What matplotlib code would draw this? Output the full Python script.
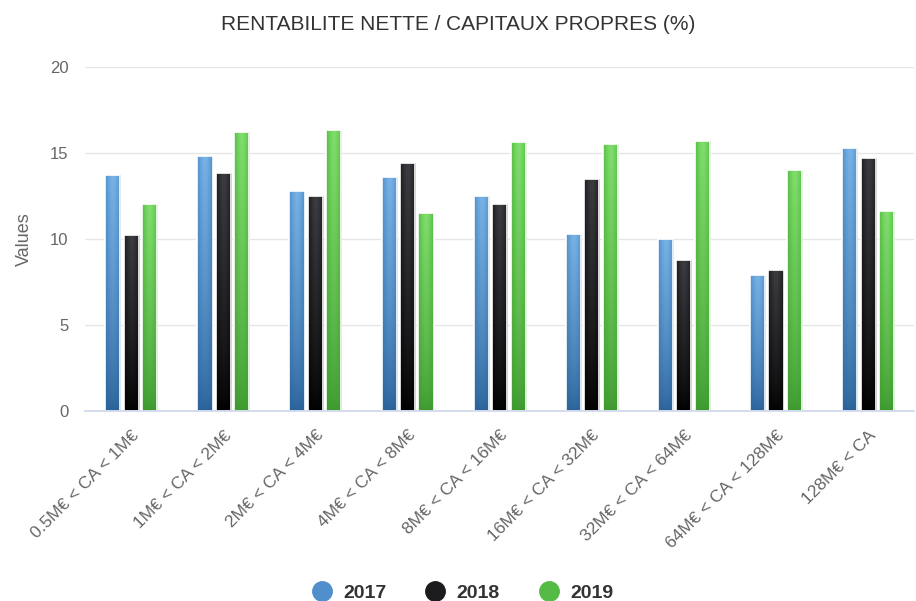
import matplotlib
matplotlib.use('Agg')
import matplotlib.pyplot as plt
from matplotlib.lines import Line2D
import numpy as np

plt.rcParams['font.family'] = ['Liberation Sans', 'DejaVu Sans']

categories = ['0.5M€ < CA < 1M€', '1M€ < CA < 2M€', '2M€ < CA < 4M€', '4M€ < CA < 8M€',
              '8M€ < CA < 16M€', '16M€ < CA < 32M€', '32M€ < CA < 64M€',
              '64M€ < CA < 128M€', '128M€ < CA']
years = ['2017', '2018', '2019']
v2017 = [13.7, 14.8, 12.8, 13.6, 12.5, 10.3, 10.0, 7.9, 15.3]
v2018 = [10.2, 13.8, 12.5, 14.4, 12.0, 13.5, 8.8, 8.2, 14.7]
v2019 = [12.0, 16.2, 16.3, 11.5, 15.6, 15.5, 15.7, 14.0, 11.6]
title = 'RENTABILITE NETTE / CAPITAUX PROPRES (%)'

# (edge top, centre top, bottom) per series
shades = [
    ('#4f8fcc', '#78b3e6', '#2a6299'),
    ('#1c1c1e', '#3c3c42', '#000000'),
    ('#56bb45', '#80de6c', '#3e9a2f'),
]
legend_cols = ['#4f8fcc', '#1c1c1e', '#56bb45']


def hex2rgb(h):
    return np.array([int(h[i:i + 2], 16) / 255. for i in (1, 3, 5)])


def gradient(edge, centre, bottom, nx=40, ny=80):
    e, c, b = hex2rgb(edge), hex2rgb(centre), hex2rgb(bottom)
    xs = np.linspace(0, 1, nx)
    hprof = 1 - np.abs(2 * xs - 1) ** 1.5
    top = e[None, :] + (c - e)[None, :] * hprof[:, None]
    t = np.linspace(1, 0, ny)[:, None, None]  # row 0 = top
    t = t ** 0.7
    img = b[None, None, :] * (1 - t) + top[None, :, :] * t
    return np.clip(img, 0, 1)


fig = plt.figure(figsize=(9.16, 6.01), dpi=100)
ax = fig.add_axes([0.093, 0.316, 0.905, 0.573])

x = np.arange(len(categories))
width = 0.165
step = 0.2
series = [v2017, v2018, v2019]
for i, vals in enumerate(series):
    img = gradient(*shades[i])
    bars = ax.bar(x + (i - 1) * step, vals, width, color=shades[i][0],
                  edgecolor='white', linewidth=1.2, zorder=3)
    for b in bars:
        x0 = b.get_x()
        im = ax.imshow(img, extent=(x0, x0 + b.get_width(), 0, b.get_height()),
                       aspect='auto', zorder=3.5, interpolation='bilinear')
        im.set_clip_path(b)
        ax.add_patch(plt.Rectangle((x0, 0), b.get_width(), b.get_height(),
                                   fill=False, edgecolor='white', linewidth=1.2, zorder=4))

ax.set_xlim(-0.5, len(categories) - 0.5)
ax.set_ylim(0, 20)
ax.set_yticks([0, 5, 10, 15, 20])
ax.set_xticks(x)
ax.set_xticklabels(categories, rotation=45, ha='right', rotation_mode='anchor',
                   fontsize=12.5, color='#666666')
ax.tick_params(axis='x', length=0, pad=12)
ax.tick_params(axis='y', length=0, pad=12, labelsize=12, labelcolor='#666666')
ax.grid(axis='y', color='#e6e6e6', linewidth=1, zorder=0)
ax.set_axisbelow(True)
for s in ['top', 'right', 'left']:
    ax.spines[s].set_visible(False)
ax.spines['bottom'].set_color('#ccd6eb')
ax.spines['bottom'].set_linewidth(1.2)
ax.spines['bottom'].set_zorder(5)
ax.set_ylabel('Values', fontsize=13, color='#666666', labelpad=12)

fig.text(0.5, 0.96, title, ha='center', va='center', fontsize=15, color='#333333')

handles = [Line2D([], [], marker='o', linestyle='none', markersize=14,
                  markerfacecolor=c, markeredgecolor=c) for c in legend_cols]
leg = fig.legend(handles, years, loc='center', bbox_to_anchor=(0.5, 0.013), ncol=3,
                 frameon=False, handletextpad=0.1, columnspacing=1.5,
                 prop={'weight': 'bold', 'size': 14})
for t in leg.get_texts():
    t.set_color('#333333')

fig.savefig('out.png', dpi=100)
